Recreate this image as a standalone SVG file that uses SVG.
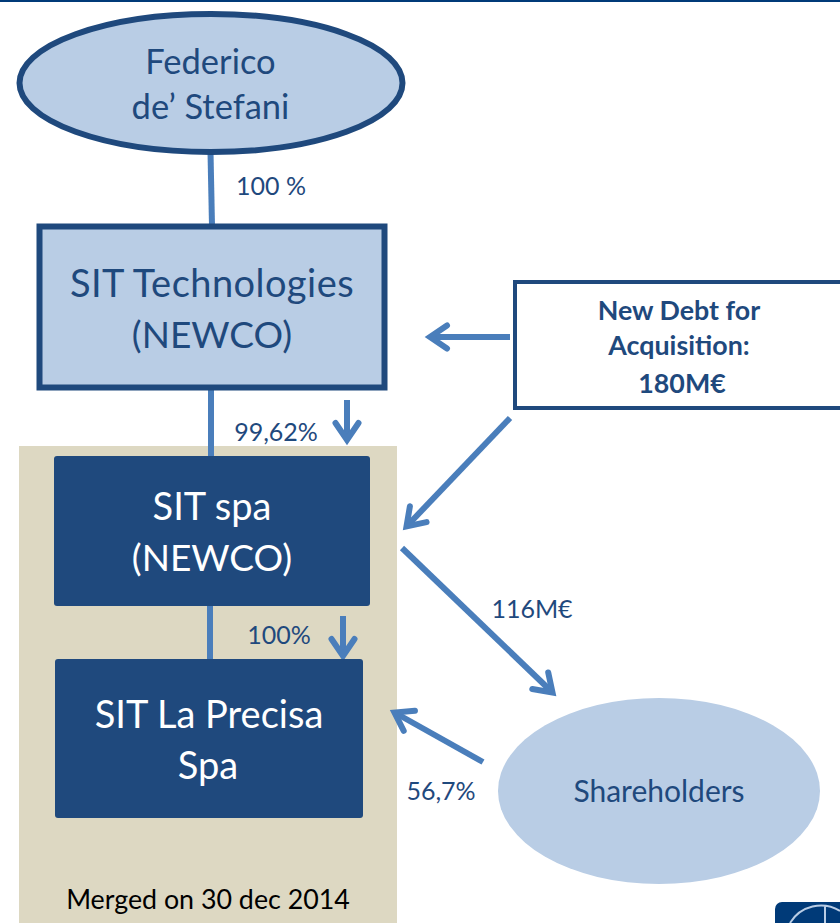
<svg xmlns="http://www.w3.org/2000/svg" width="840" height="923" viewBox="0 0 840 923">
<style>
text{font-family:Lato,"Open Sans","Liberation Sans",sans-serif;text-anchor:middle}
.big{font-size:38px}
.fed{font-size:34.500px}
.nw{font-size:37px}
.lab{font-size:25px;fill:#1f497d}
.bd{font-size:26.800px;font-weight:700;fill:#1f497d}
.dk{fill:#1f497d}
.wt{fill:#fff}
.ln{fill:none;stroke:#4a7ebb;stroke-width:6}
.ar{fill:none;stroke:#4a7ebb;stroke-width:6;marker-end:url(#a)}
</style>
<defs>
<marker id="a" markerUnits="userSpaceOnUse" markerWidth="40" markerHeight="34" refX="26" refY="17" orient="auto">
<path d="M9 5.500 L26 17 L9 28.500" fill="none" stroke="#4a7ebb" stroke-width="6" stroke-linecap="round"/>
</marker>
</defs>
<rect width="840" height="923" fill="#fff"/>
<rect width="840" height="2" fill="#003a78"/>
<rect id="merged-bg" x="19" y="446" width="378" height="477" fill="#ddd8c2"/>
<g id="connectors">
<path class="ln" d="M210.500 152 L212 226"/>
<path class="ln" d="M211 388 L211 456"/>
<path class="ln" d="M210 605 L210 659"/>
<path class="ar" d="M347 400 L347 440"/>
<path class="ar" d="M343 616 L343 656"/>
<path class="ar" d="M510 337 L430 337"/>
<path class="ar" d="M510 418 L406.500 526.500"/>
<path class="ar" d="M402 548 L552.500 692.500"/>
<path class="ar" d="M483 762 L394.500 712.500"/>
</g>
<g id="federico">
<ellipse cx="211" cy="83" rx="191.500" ry="69" fill="#b9cde5" stroke="#1f497d" stroke-width="6"/>
<text class="fed dk" x="210.500" y="74">Federico</text>
<text class="fed dk" x="210.500" y="119">de’ Stefani</text>
</g>
<text class="lab" x="271" y="195">100 %</text>
<g id="sit-technologies">
<rect x="39.500" y="226.500" width="345" height="161" fill="#b9cde5" stroke="#1f497d" stroke-width="6"/>
<text class="big dk" x="212" y="297" letter-spacing=".45">SIT Technologies</text>
<text class="nw dk" x="212" y="348">(NEWCO)</text>
</g>
<g id="new-debt">
<rect x="515" y="282" width="335" height="126" fill="#fff" stroke="#1f497d" stroke-width="4"/>
<text class="bd" x="679" y="320">New Debt for</text>
<text class="bd" x="679" y="355">Acquisition:</text>
<text class="bd" x="682" y="393" font-size="26">180M€</text>
</g>
<text class="lab" x="276" y="441">99,62%</text>
<g id="sit-spa">
<rect x="54" y="456" width="316" height="150" rx="3" fill="#1f497d"/>
<text class="big wt" x="212" y="520">SIT spa</text>
<text class="nw wt" x="212" y="571">(NEWCO)</text>
</g>
<text class="lab" x="279" y="644">100%</text>
<g id="sit-la-precisa">
<rect x="55" y="659" width="308" height="159" rx="3" fill="#1f497d"/>
<text class="big wt" x="209" y="728">SIT La Precisa</text>
<text class="big wt" x="208" y="779">Spa</text>
</g>
<text class="lab" x="532" y="618">116M€</text>
<text class="lab" x="441" y="800">56,7%</text>
<g id="shareholders">
<ellipse cx="659" cy="791" rx="161" ry="93" fill="#b9cde5"/>
<text class="dk" x="659" y="802" font-size="30">Shareholders</text>
</g>
<text x="208" y="909" font-size="26.800" fill="#000">Merged on 30 dec 2014</text>
<g id="logo">
<rect x="775" y="902" width="80" height="40" rx="7" fill="#003a78"/>
<path d="M790 923 A36 36 0 0 1 840 911 M825 906 L825 923" fill="none" stroke="#b9cde5" stroke-width="2"/>
</g>
</svg>
